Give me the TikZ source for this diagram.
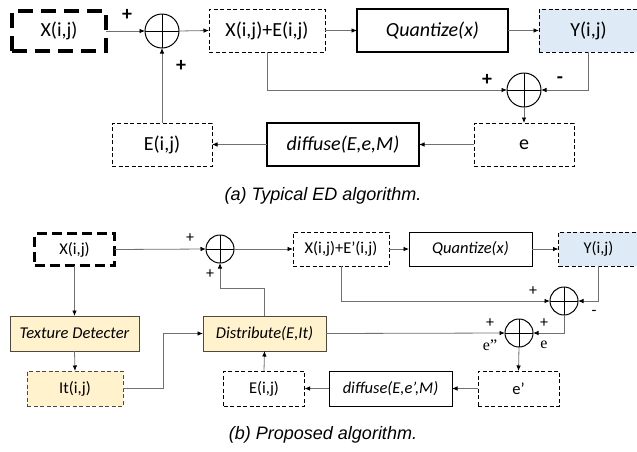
\documentclass[tikz,border=0pt]{standalone}
\usepackage{fontspec}
\setmainfont{Carlito}
\newfontfamily\capfont{Liberation Sans}
\newfontfamily\serfont{Liberation Serif}
\usetikzlibrary{arrows.meta,calc}
\definecolor{lblue}{HTML}{DEEBF7}
\definecolor{lyellow}{HTML}{FFF2CC}
\definecolor{conn}{HTML}{707070}
\definecolor{ybord}{HTML}{4A4A40}
\tikzset{
  box/.style={draw=black,line width=1.2pt,inner sep=0pt,outer sep=0pt,align=center},
  dbox/.style={box,line width=0.9pt,dash pattern=on 4pt off 2.5pt},
  tbox/.style={box,line width=4pt,dash pattern=on 15pt off 8pt},
  tboxb/.style={box,line width=3pt,dash pattern=on 10pt off 5pt},
  big/.style={font=\fontsize{20}{24}\selectfont},
  small/.style={font=\fontsize{16.5}{20}\selectfont},
  sumnode/.style={circle,draw=black,line width=1pt,inner sep=0pt,outer sep=0pt,
    path picture={\draw[line width=0.9pt] (path picture bounding box.north) -- (path picture bounding box.south)
      (path picture bounding box.west) -- (path picture bounding box.east);}},
  arr/.style={draw=conn,line width=0.8pt,-{Latex[length=5.5pt,width=4.5pt,color=black]}},
  lab/.style={inner sep=0pt,font=\fontsize{20}{24}\selectfont},
  labs/.style={inner sep=0pt,font=\fontsize{16}{20}\selectfont},
  captext/.style={inner sep=0pt,font=\capfont\itshape\fontsize{18}{22}\selectfont}
}
\begin{document}
\begin{tikzpicture}[x=1pt,y=-1pt]
\clip (0,0) rectangle (637,451);
% ---------- (a) ----------
\node[tbox,big,minimum width=94pt,minimum height=40pt] (xa) at (59,31) {X(i,j)};
\node[sumnode,minimum size=34pt] (s1) at (162,31) {};
\node[dbox,big,minimum width=116pt,minimum height=43pt] (xea) at (267,30.5) {X(i,j)+E(i,j)};
\node[box,big,minimum width=151pt,minimum height=43pt] (qa) at (432.5,30.5) {\itshape Quantize(x)};
\node[dbox,big,fill=lblue,minimum width=99pt,minimum height=43pt] (ya) at (588.5,30.5) {Y(i,j)};
\node[sumnode,minimum size=34pt] (s2) at (524,90) {};
\node[dbox,big,minimum width=100pt,minimum height=43pt] (ea) at (524,144.5) {e};
\node[box,big,minimum width=152pt,minimum height=43pt] (da) at (343,144.5) {\itshape diffuse(E,e,M)};
\node[dbox,big,minimum width=100pt,minimum height=43pt] (Ea) at (162,144.5) {E(i,j)};
\draw[arr] (xa.east) -- (s1.west);
\draw[arr] (s1.east) -- (xea.west);
\draw[arr] (xea.east) -- (qa.west);
\draw[arr] (qa.east) -- (ya.west);
\draw[arr] (xea.south) |- (s2.west);
\draw[arr] (ya.south) |- (s2.east);
\draw[arr] (s2.south) -- (ea.north);
\draw[arr] (ea.west) -- (da.east);
\draw[arr] (da.west) -- (Ea.east);
\draw[arr] (Ea.north) -- (s1.south);
\node[lab] (p1) at (127,15) {\textbf{+}};
\node[lab] (p2) at (181,66) {\textbf{+}};
\node[lab] (p3) at (487,80) {\textbf{+}};
\node[lab] (m1) at (560,80) {\textbf{-}};
\node[captext] (capa) at (323,196) {(a) Typical ED algorithm.};
% ---------- (b) ----------
\node[tboxb,small,minimum width=80pt,minimum height=32pt] (xb) at (74.5,249.5) {X(i,j)};
\node[sumnode,minimum size=28pt] (s3) at (220,249) {};
\node[dbox,small,minimum width=96pt,minimum height=34pt] (xeb) at (341,249) {X(i,j)+E’(i,j)};
\node[box,small,line width=1pt,minimum width=123pt,minimum height=34pt] (qb) at (470.5,249) {\itshape Quantize(x)};
\node[dbox,small,fill=lblue,minimum width=80pt,minimum height=34pt] (yb) at (598.5,249) {Y(i,j)};
\node[sumnode,minimum size=28pt] (s4) at (564,301) {};
\node[sumnode,minimum size=28pt] (s5) at (519,333) {};
\node[box,small,line width=1pt,draw=ybord,fill=lyellow,minimum width=129pt,minimum height=35pt] (tb) at (74.5,333.5) {\itshape Texture Detecter};
\node[dbox,small,draw=ybord,fill=lyellow,minimum width=96pt,minimum height=35pt] (itb) at (75,388.5) {It(i,j)};
\node[box,small,line width=1pt,draw=ybord,fill=lyellow,minimum width=123pt,minimum height=35pt] (db) at (264.5,333.5) {\itshape Distribute(E,It)};
\node[dbox,small,minimum width=81pt,minimum height=35pt] (Eb) at (264,388.5) {E(i,j)};
\node[box,small,line width=1pt,minimum width=123pt,minimum height=35pt] (dfb) at (390.5,388.5) {\itshape diffuse(E,e’,M)};
\node[dbox,small,minimum width=81pt,minimum height=35pt] (epb) at (518.5,388.5) {e’};
\coordinate (turn) at (0,288);
\draw[arr] (xb.east) -- (s3.west);
\draw[arr] (s3.east) -- (xeb.west);
\draw[arr] (xeb.east) -- (qb.west);
\draw[arr] (qb.east) -- (yb.west);
\draw[arr] (xeb.south) |- (s4.west);
\draw[arr] (yb.south) |- (s4.east);
\draw[arr] (s4.south) |- (s5.east);
\draw[arr] (db.east) -- (s5.west);
\draw[arr] (s5.south) -- (epb.north);
\draw[arr] (epb.west) -- (dfb.east);
\draw[arr] (dfb.west) -- (Eb.east);
\draw[arr] (Eb.north) -- (db.south);
\draw[arr] (db.north) -- (db.north |- turn) -| (s3.south);
\draw[arr] (xb.south) -- (tb.north);
\draw[arr] (tb.south) -- (itb.north);
\draw[arr] (itb.east) -- ++(40,0) |- (db.west);
\node[labs] (p4) at (190,238) {+};
\node[labs] (p5) at (210,274) {+};
\node[labs] (p6) at (533,291) {+};
\node[labs] (m2) at (594,313) {-};
\node[labs] (p7) at (490,323) {+};
\node[labs] (p8) at (544,323) {+};
\node[labs,font=\serfont\fontsize{16}{20}\selectfont] (e2) at (490,345) {e”};
\node[labs,font=\serfont\fontsize{16}{20}\selectfont] (e1) at (544,345) {e};
\node[captext] (capb) at (323,435) {(b) Proposed algorithm.};
\end{tikzpicture}
\end{document}
